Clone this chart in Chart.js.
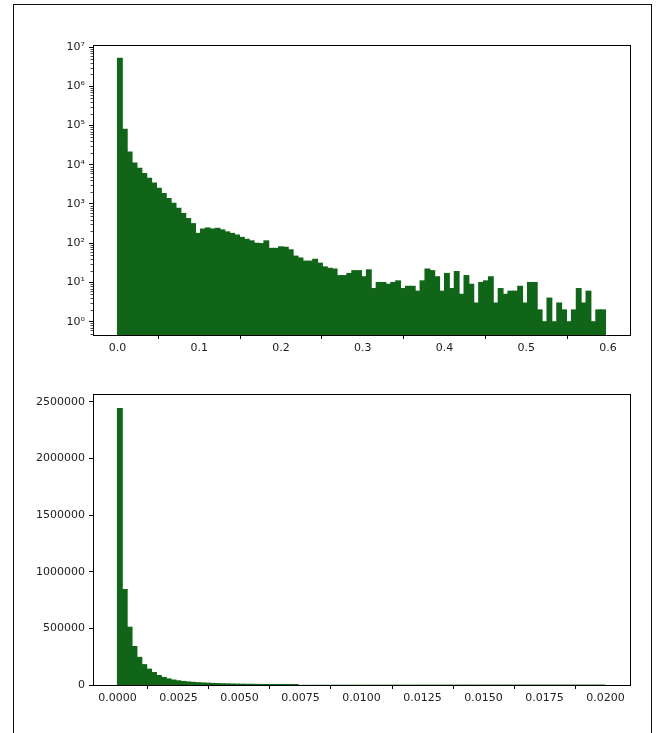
<!DOCTYPE html>
<html>
<head>
<meta charset="utf-8">
<script src="https://cdn.jsdelivr.net/npm/chart.js@4.4.1/dist/chart.umd.min.js"></script>
<style>
  body { margin: 0; background: #fff; }
  #wrap { position: relative; width: 667px; height: 733px; overflow: hidden; }
  #frame { position: absolute; left: 13px; top: 4px; width: 639px; height: 760px; border: 1.5px solid #111; box-sizing: border-box; }
  canvas { position: absolute; left: 0; }
  #topChart { top: 0; }
  #bottomChart { top: 370px; }
</style>
</head>
<body>
<div id="wrap">
  <div id="frame"></div>
  <canvas id="topChart" width="667" height="370"></canvas>
  <canvas id="bottomChart" width="667" height="363"></canvas>
</div>
<script>
// top histogram: 100 bins over [0, 0.597], log y
const topRange = [0, 0.597];
const topCounts = [
  5200000, 80000, 21000, 11000, 8100, 6000, 4500, 3400, 2500, 1850,
  1380, 1050, 780, 575, 425, 316, 178, 230, 245, 230,
  240, 219, 195, 178, 162, 141, 126, 115, 100, 98,
  115, 74, 74, 81, 79, 68, 47, 42, 35, 35,
  39, 31, 25, 23, 22, 15, 15, 17, 20, 20,
  14, 21, 7, 10, 10, 9, 10, 11, 7, 8,
  8, 6, 11, 22, 20, 14, 6, 17, 7, 19,
  5, 15, 9, 3, 10, 11, 14, 3, 7, 5,
  6, 6, 8, 3, 10, 10, 2, 1, 4, 1,
  3, 2, 1, 2, 7, 3, 6, 1, 2, 2
];
const topXTicks = [0, 0.1, 0.2, 0.3, 0.4, 0.5, 0.6];
const topYTicks = [1, 10, 100, 1000, 10000, 100000, 1000000, 10000000];
const topYLabels = ["10\u2070", "10\u00b9", "10\u00b2", "10\u00b3", "10\u2074", "10\u2075", "10\u2076", "10\u2077"];

// bottom histogram: 100 bins over [0, 0.02], linear y
const bottomRange = [0, 0.02];
const bottomCounts = [
  2440000, 843000, 510000, 340000, 244000, 180000, 140000, 110000, 84000, 67000,
  54000, 44000, 37000, 31500, 27000, 23500, 20500, 18000, 16000, 14200,
  12600, 11200, 10000, 9000, 8100, 7300, 6600, 6000, 5400, 4900,
  4500, 4200, 3900, 3650, 3400, 3200, 3000, 2850, 2700, 2550,
  2400, 2300, 2200, 2100, 2000, 1900, 1820, 1740, 1670, 1600,
  1540, 1480, 1420, 1370, 1320, 1270, 1230, 1190, 1150, 1110,
  1080, 1040, 1010, 980, 950, 920, 890, 865, 840, 815,
  790, 770, 750, 730, 710, 690, 670, 655, 640, 625,
  610, 595, 580, 566, 552, 540, 528, 516, 505, 494,
  483, 473, 463, 453, 444, 435, 426, 418, 410, 402
];
const bottomXTicks = [0, 0.0025, 0.005, 0.0075, 0.01, 0.0125, 0.015, 0.0175, 0.02];
const bottomYTicks = [0, 500000, 1000000, 1500000, 2000000, 2500000];

const barColor = "#116518";
const tickFont = { family: "'DejaVu Sans'", size: 11 };

function toBins(range, counts) {
  const w = (range[1] - range[0]) / counts.length;
  return counts.map((c, i) => ({ x: range[0] + (i + 0.5) * w, y: c }));
}

// full matplotlib style box + minor log ticks
const boxPlugin = {
  id: "box",
  afterDatasetsDraw(chart) {
    const a = chart.chartArea;
    const ctx = chart.ctx;
    ctx.save();
    ctx.strokeStyle = "#000";
    ctx.lineWidth = 1;
    ctx.strokeRect(Math.round(a.left) + 0.5, Math.round(a.top) + 0.5,
      Math.round(a.right - a.left), Math.round(a.bottom - a.top));
    if (chart.options.scales.y.type === "logarithmic") {
      const y = chart.scales.y;
      ctx.lineWidth = 0.7;
      for (let e = -1; e < 8; e++) {
        for (let k = 2; k <= 9; k++) {
          const v = k * Math.pow(10, e);
          if (v < y.min || v > y.max) continue;
          const py = Math.round(y.getPixelForValue(v)) + 0.5;
          ctx.beginPath();
          ctx.moveTo(a.left - 2.5, py);
          ctx.lineTo(a.left, py);
          ctx.stroke();
        }
      }
    }
    ctx.restore();
  }
};

function makeChart(id, cfg) {
  const ctx = document.getElementById(id).getContext("2d");
  return new Chart(ctx, {
    type: "bar",
    data: {
      datasets: [{
        data: cfg.data,
        backgroundColor: barColor,
        borderWidth: 0,
        barPercentage: 1.0,
        categoryPercentage: 1.0,
        // overlap neighbours slightly so no seams show, skip it for sub-pixel bars
        inflateAmount: (c) => (c.raw && c.raw.y < cfg.tinyCount ? 0 : 0.5)
      }]
    },
    options: {
      responsive: false,
      animation: false,
      devicePixelRatio: 1,
      layout: { padding: cfg.padding },
      plugins: { legend: { display: false }, tooltip: { enabled: false } },
      scales: {
        x: {
          type: "linear",
          offset: false,
          min: cfg.xMin,
          max: cfg.xMax,
          afterBuildTicks: (axis) => { axis.ticks = cfg.xTicks.map((v) => ({ value: v })); },
          afterFit: (axis) => { axis.height = cfg.xHeight; },
          grid: { drawOnChartArea: false, drawTicks: true, tickLength: 4, tickColor: "#000", tickWidth: 1 },
          border: { display: false },
          ticks: {
            color: "#222",
            font: tickFont,
            padding: 3,
            maxRotation: 0,
            autoSkip: false,
            callback: cfg.xFmt
          }
        },
        y: {
          type: cfg.yType,
          min: cfg.yMin,
          max: cfg.yMax,
          afterBuildTicks: (axis) => { axis.ticks = cfg.yTicks.map((v) => ({ value: v })); },
          afterFit: (axis) => { axis.width = 93; },
          grid: { drawOnChartArea: false, drawTicks: true, tickLength: 4, tickColor: "#000", tickWidth: 1 },
          border: { display: false },
          ticks: {
            color: "#222",
            font: tickFont,
            padding: 4,
            autoSkip: false,
            callback: cfg.yFmt
          }
        }
      }
    },
    plugins: [boxPlugin]
  });
}

makeChart("topChart", {
  data: toBins(topRange, topCounts),
  tinyCount: 0,
  padding: { top: 45, right: 37, left: 0, bottom: 0 },
  xHeight: 35,
  xMin: -0.0299, xMax: 0.6269,
  xTicks: topXTicks,
  xFmt: (v) => Number(v).toFixed(1),
  yType: "logarithmic",
  yMin: 0.458, yMax: 1.125e7,
  yTicks: topYTicks,
  yFmt: (v) => topYLabels[topYTicks.indexOf(v)] ?? ""
});

makeChart("bottomChart", {
  data: toBins(bottomRange, bottomCounts),
  tinyCount: 3000,
  padding: { top: 24, right: 37, left: 0, bottom: 0 },
  xHeight: 48,
  xMin: -0.001, xMax: 0.021,
  xTicks: bottomXTicks,
  xFmt: (v) => Number(v).toFixed(4),
  yType: "linear",
  yMin: 0, yMax: 2568000,
  yTicks: bottomYTicks,
  yFmt: (v) => String(v)
});
</script>
</body>
</html>
